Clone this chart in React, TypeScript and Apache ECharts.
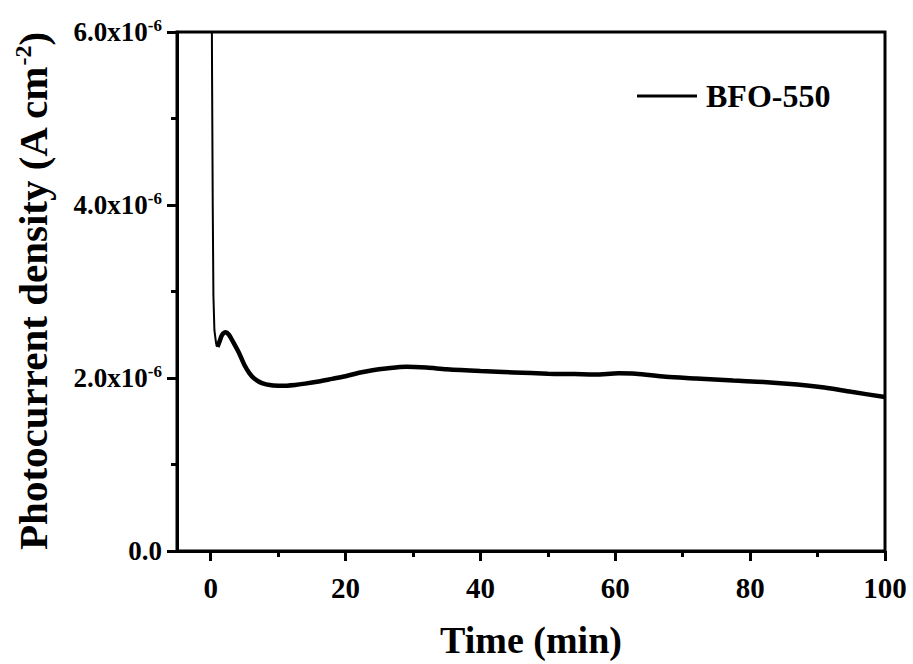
import React, { useEffect, useRef } from "react";
import * as echarts from "echarts";

const spikeTime = [0.1, 0.2, 0.3, 0.4, 0.55, 0.8, 1.0];
const spikeValue = [7.5e-6, 5.5e-6, 4.0e-6, 2.95e-6, 2.55e-6, 2.4e-6, 2.36e-6];

const mainTime = [1.0, 1.3, 1.7, 2.2, 2.7, 3.3, 4.2, 5.0, 5.7, 6.5, 7.6, 9, 10.5, 12.5, 14, 16, 18, 20, 22, 24, 26, 29, 32, 35, 40, 45, 50, 54, 57, 60.5, 63, 67.5, 72, 77.5, 82, 87, 91, 95, 100];
const mainValue = [2.36e-6, 2.42e-6, 2.5e-6, 2.53e-6, 2.5e-6, 2.42e-6, 2.29e-6, 2.15e-6, 2.06e-6, 1.99e-6, 1.94e-6, 1.915e-6, 1.91e-6, 1.92e-6, 1.935e-6, 1.96e-6, 1.99e-6, 2.02e-6, 2.06e-6, 2.09e-6, 2.11e-6, 2.13e-6, 2.12e-6, 2.1e-6, 2.08e-6, 2.065e-6, 2.05e-6, 2.045e-6, 2.04e-6, 2.055e-6, 2.05e-6, 2.015e-6, 1.995e-6, 1.97e-6, 1.955e-6, 1.925e-6, 1.89e-6, 1.84e-6, 1.78e-6];

const xMajorTicks = [0, 20, 40, 60, 80, 100];
const xMinorTicks = [10, 30, 50, 70, 90];
const seriesName = "BFO-550";

const FONT = "'Liberation Serif', 'Times New Roman', serif";

export default function App() {
  const ref = useRef<HTMLDivElement>(null);
  useEffect(() => {
    if (!ref.current) return;
    const chart = echarts.init(ref.current, null, { renderer: "svg" });
    const gridPos = { left: 177, right: 28, top: 32, bottom: 113, outerBoundsMode: "none", containLabel: false };
    chart.setOption({
      animation: false,
      backgroundColor: "#fff",
      grid: [
        { ...gridPos, show: true, borderColor: "#000", borderWidth: 3 },
        { ...gridPos, show: false },
      ],
      legend: {
        data: [seriesName],
        left: 632,
        top: 75,
        icon: "rect",
        itemWidth: 60,
        itemHeight: 3,
        textStyle: { fontFamily: FONT, fontWeight: "bold", fontSize: 32, color: "#000", padding: [0, 0, 0, 4] },
      },
      xAxis: [
        {
          type: "value",
          gridIndex: 0,
          min: -5,
          max: 100,
          name: "Time (min)",
          nameLocation: "middle",
          nameGap: 70,
          nameTextStyle: { fontFamily: FONT, fontWeight: "bold", fontSize: 38, lineHeight: 38, color: "#000" },
          axisLine: { show: true, onZero: false, lineStyle: { color: "#000", width: 3 } },
          axisTick: { show: true, length: 10, lineStyle: { color: "#000", width: 3 }, customValues: xMajorTicks },
          axisLabel: {
            customValues: xMajorTicks,
            margin: 22,
            fontFamily: FONT,
            fontWeight: "bold",
            fontSize: 29,
            color: "#000",
          },
          splitLine: { show: false },
        },
        {
          type: "value",
          gridIndex: 1,
          min: -5,
          max: 100,
          axisLine: { show: false, onZero: false },
          axisTick: { show: true, length: 6, lineStyle: { color: "#000", width: 3 }, customValues: xMinorTicks },
          axisLabel: { show: false },
          splitLine: { show: false },
        },
      ],
      yAxis: [
        {
          type: "value",
          gridIndex: 0,
          min: 0,
          max: 6e-6,
          interval: 2e-6,
          name: "{a|Photocurrent density (A cm}{b|-2}{a|)}",
          nameLocation: "middle",
          nameRotate: 90,
          nameGap: 122,
          nameTextStyle: {
            fontFamily: FONT,
            fontWeight: "bold",
            fontSize: 41,
            color: "#000",
            rich: {
              a: { fontFamily: FONT, fontWeight: "bold", fontSize: 41, color: "#000" },
              b: { fontFamily: FONT, fontWeight: "bold", fontSize: 24, color: "#000", padding: [0, 0, 20, 0] },
            },
          },
          axisLine: { show: true, onZero: false, lineStyle: { color: "#000", width: 3 } },
          axisTick: { show: true, length: 10, lineStyle: { color: "#000", width: 3 } },
          minorTick: { show: true, splitNumber: 2, length: 6, lineStyle: { color: "#000", width: 3 } },
          axisLabel: {
            margin: 15,
            formatter: (v: number) =>
              v === 0 ? "{a|0.0}" : `{a|${(v / 1e-6).toFixed(1)}x10}{b|-6}`,
            rich: {
              a: { fontFamily: FONT, fontWeight: "bold", fontSize: 27, color: "#000" },
              b: { fontFamily: FONT, fontWeight: "bold", fontSize: 17, color: "#000", padding: [0, 0, 14, 0] },
            },
          },
          splitLine: { show: false },
        },
        {
          type: "value",
          gridIndex: 1,
          min: 0,
          max: 6e-6,
          show: false,
        },
      ],
      series: [
        {
          name: seriesName,
          type: "line",
          xAxisIndex: 0,
          yAxisIndex: 0,
          data: mainTime.map((t, i) => [t, mainValue[i]]),
          showSymbol: false,
          smooth: 0.3,
          lineStyle: { color: "#000", width: 4.5 },
          itemStyle: { color: "#000" },
          clip: true,
        },
        {
          name: "spike",
          type: "line",
          xAxisIndex: 0,
          yAxisIndex: 0,
          data: spikeTime.map((t, i) => [t, spikeValue[i]]),
          showSymbol: false,
          lineStyle: { color: "#000", width: 2 },
          itemStyle: { color: "#000" },
          clip: true,
        },
      ],
    });
    return () => chart.dispose();
  }, []);
  return <div ref={ref} style={{ width: 913, height: 664, position: "absolute", left: 0, top: 0 }} />;
}
